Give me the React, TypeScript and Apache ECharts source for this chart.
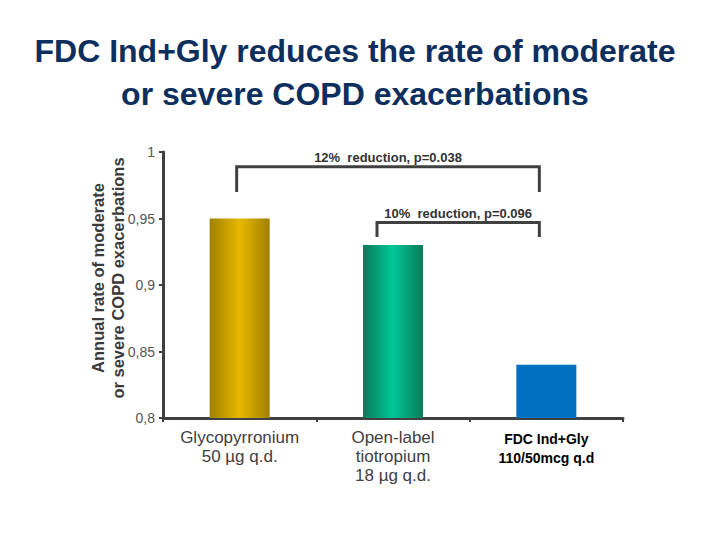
import React, { useEffect, useRef } from "react";
import * as echarts from "echarts";

const categories = ["Glycopyrronium\n50 µg q.d.", "Open-label\ntiotropium\n18 µg q.d.", "FDC Ind+Gly\n110/50mcg q.d"];
const values = [0.95, 0.93, 0.84];
const yTicks = { min: 0.8, max: 1, interval: 0.05 };
const titleLines = ["FDC Ind+Gly reduces the rate of moderate", "or severe COPD exacerbations"];
const yNameLines = ["Annual rate of moderate", "or severe COPD exacerbations"];
const brackets = [
  { label: "12%  reduction, p=0.038", from: 0, to: 2, top: 0.989, bottom: 0.97 },
  { label: "10%  reduction, p=0.096", from: 1, to: 2, top: 0.947, bottom: 0.936 },
];

const grad = (edge: string, mid: string) =>
  new echarts.graphic.LinearGradient(0, 0, 1, 0, [
    { offset: 0, color: edge },
    { offset: 0.5, color: mid },
    { offset: 1, color: edge },
  ]);

const FF = "Liberation Sans, Arial, sans-serif";

export default function App() {
  const ref = useRef<HTMLDivElement>(null);
  useEffect(() => {
    document.body.style.margin = "0";
    const chart = echarts.init(ref.current!, null, { renderer: "svg" });
    const colors = [grad("#a08000", "#e8b800"), grad("#0b7a5a", "#00c896"), "#0070c0"];
    chart.setOption({
      animation: false,
      backgroundColor: "#ffffff",
      grid: { left: 163, right: 97, top: 152, bottom: 122, containLabel: false },
      xAxis: {
        type: "category",
        data: categories,
        axisLine: { lineStyle: { color: "#404040", width: 3 } },
        axisTick: { show: true, length: 4, lineStyle: { color: "#404040", width: 2 } },
        axisLabel: {
          interval: 0,
          margin: 10,
          fontFamily: FF,
          fontSize: 17,
          lineHeight: 19,
          color: "#404040",
          formatter: (v: string, i: number) => (i === 2 ? "{b|" + v.split("\n").join("}\n{b|") + "}" : v),
          rich: {
            b: {
              fontFamily: FF,
              fontSize: 14,
              fontWeight: "bold",
              color: "#000000",
              lineHeight: 19,
              padding: [2, 0, 0, 0],
            },
          },
        },
      },
      yAxis: {
        type: "value",
        min: yTicks.min,
        max: yTicks.max,
        interval: yTicks.interval,
        splitLine: { show: false },
        axisLine: { show: true, lineStyle: { color: "#404040", width: 3 } },
        axisTick: { show: true, length: 4, lineStyle: { color: "#404040", width: 2 } },
        axisLabel: {
          margin: 8,
          fontFamily: FF,
          fontSize: 14,
          color: "#555555",
          formatter: (v: number) => (Math.abs(v - 1) < 1e-9 ? "1" : String(+v.toFixed(2)).replace(".", ",")),
        },
      },
      series: [
        {
          type: "bar",
          barWidth: 60,
          data: values.map((v, i) => ({ value: v, itemStyle: { color: colors[i] } })),
        },
      ],
    });

    const g: any[] = [
      {
        type: "text",
        x: 355,
        y: 72,
        style: {
          text: titleLines.join("\n"),
          fontFamily: FF,
          fontSize: 32,
          fontWeight: "bold",
          lineHeight: 43,
          fill: "#0d2f5e",
          align: "center",
          verticalAlign: "middle",
        },
      },
    ];
    yNameLines.forEach((t, i) => {
      g.push({
        type: "text",
        x: 98 + i * 20,
        y: 278,
        rotation: Math.PI / 2,
        style: {
          text: t,
          fontFamily: FF,
          fontSize: 16.5,
          fontWeight: "bold",
          fill: "#3a3a3a",
          align: "center",
          verticalAlign: "middle",
        },
      });
    });
    const offsets = [
      { l: -3, r: -7 },
      { l: -16, r: -7 },
    ];
    brackets.forEach((b, k) => {
      const pL = chart.convertToPixel({ gridIndex: 0 }, [b.from, b.top]) as number[];
      const pR = chart.convertToPixel({ gridIndex: 0 }, [b.to, b.top]) as number[];
      const pB = chart.convertToPixel({ gridIndex: 0 }, [b.to, b.bottom]) as number[];
      const xl = pL[0] + offsets[k].l;
      const xr = pR[0] + offsets[k].r;
      g.push({
        type: "polyline",
        shape: { points: [[xl, pB[1]], [xl, pL[1]], [xr, pL[1]], [xr, pB[1]]] },
        style: { stroke: "#404040", lineWidth: 3, fill: null },
      });
      g.push({
        type: "text",
        x: (xl + xr) / 2,
        y: pL[1] - 9,
        style: {
          text: b.label,
          fontFamily: FF,
          fontSize: 13,
          fontWeight: "bold",
          fill: "#333333",
          align: "center",
          verticalAlign: "middle",
        },
      });
    });
    chart.setOption({ graphic: g });
    return () => chart.dispose();
  }, []);
  return <div ref={ref} style={{ width: 720, height: 540 }} />;
}
